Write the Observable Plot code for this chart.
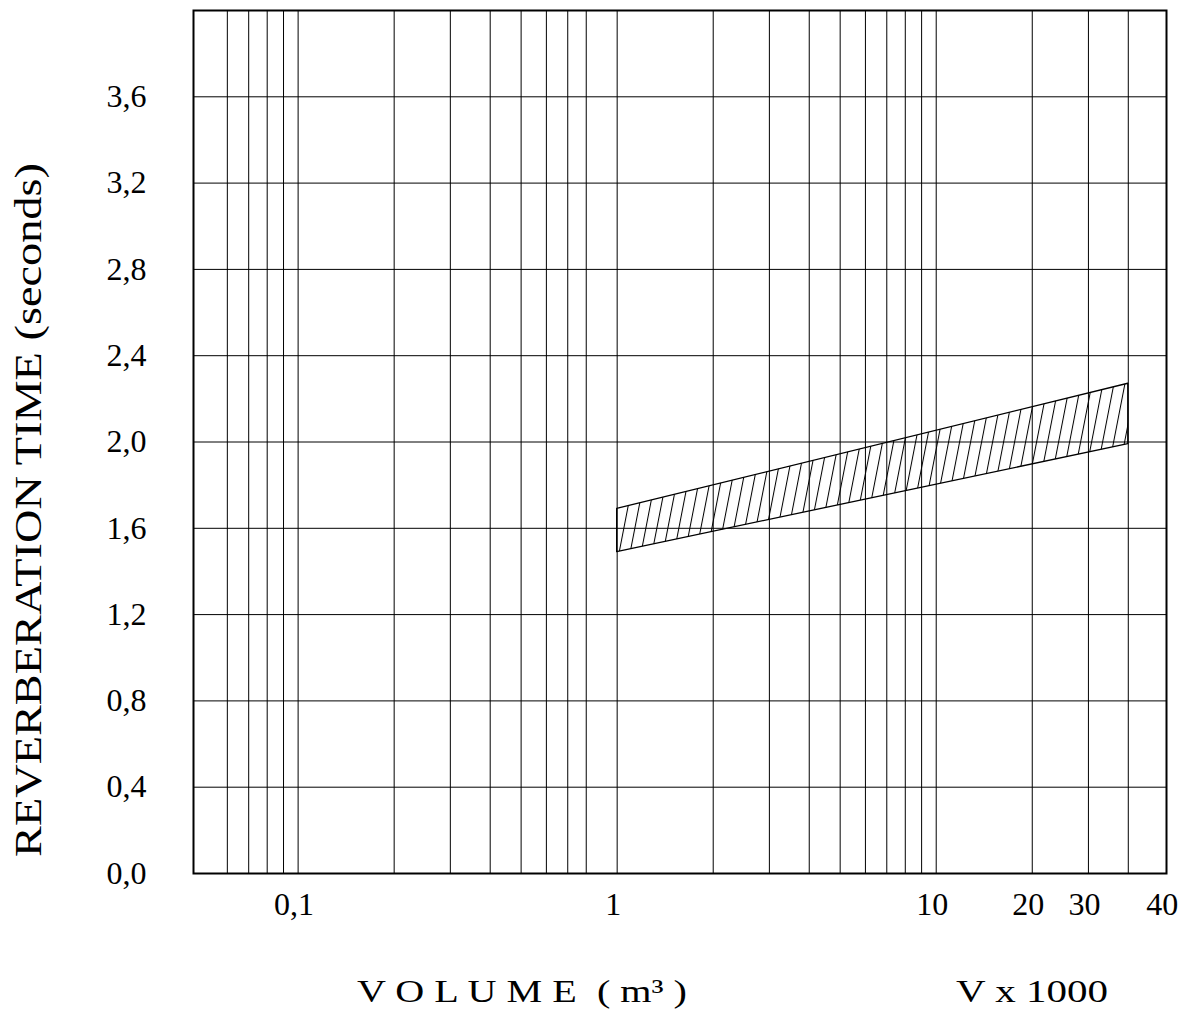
<!DOCTYPE html>
<html><head><meta charset="utf-8">
<script src="https://cdn.jsdelivr.net/npm/d3@7"></script>
<script src="https://cdn.jsdelivr.net/npm/@observablehq/plot@0.6"></script>
<style>body{margin:0;background:#fff;}</style>
</head><body><div id="chart"></div>
<script>
// Band of recommended reverberation time (seconds) vs. volume (m³, x1000)
const volumeBand = [1, 40];
const rtUpper = [1.69, 2.27];
const rtLower = [1.49, 1.99];
// Grid lines and ticks
const gridVolumes = [0.06, 0.07, 0.08, 0.09, 0.1, 0.2, 0.3, 0.4, 0.5, 0.6, 0.7, 0.8, 1, 2, 3, 4, 5, 6, 7, 8, 9, 10, 20, 30, 40];
const volumeTicks = [0.1, 1, 10, 20, 30];
const volumeTicksEnd = [40];
const rtTicks = [0, 0.4, 0.8, 1.2, 1.6, 2.0, 2.4, 2.8, 3.2, 3.6];
const xTitle = "V O L U M E  ( m³ )";
const xUnit = "V x 1000";
const yTitle = "REVERBERATION TIME (seconds)";

const band = volumeBand.map((v, i) => ({volume: v, lo: rtLower[i], hi: rtUpper[i]}));
const fmtX = d => String(d).replace(".", ",");
const fmtY = d => d.toFixed(1).replace(".", ",");

const plot = Plot.plot({
  width: 1192, height: 1016,
  marginTop: 10, marginLeft: 193, marginRight: 26, marginBottom: 143,
  style: {fontFamily: '"Liberation Serif", "Times New Roman", serif', fontSize: "32px", color: "#000", background: "#fff"},
  x: {type: "log", domain: [0.047, 52.7]},
  y: {domain: [0, 4]},
  marks: [
    Plot.ruleX(gridVolumes, {stroke: "#000", strokeWidth: 1}),
    Plot.ruleY(rtTicks, {stroke: "#000", strokeWidth: 1}),
    Plot.areaY(band, {x: "volume", y1: "lo", y2: "hi", fill: "url(#hatch)", stroke: "#000", strokeWidth: 1.3}),
    Plot.axisX(volumeTicks, {tickSize: 0, tickPadding: 19, tickFormat: fmtX, fontSize: 32, label: null, dx: -4}),
    Plot.axisX(volumeTicksEnd, {tickSize: 0, tickPadding: 19, tickFormat: fmtX, fontSize: 32, label: null, dx: 34}),
    Plot.axisY(rtTicks, {tickSize: 0, tickPadding: 47, tickFormat: fmtY, fontSize: 32, label: null}),
    Plot.frame({stroke: "#000", strokeWidth: 2}),
    Plot.text([yTitle], {text: d => d, frameAnchor: "left", textAnchor: "middle", rotate: -90, dx: -165, dy: 68, fontSize: 38, className: "ytitle"}),
    Plot.text([xTitle], {text: d => d, frameAnchor: "bottom", textAnchor: "middle", dx: -158, dy: 128, fontSize: 32, className: "xtitle"}),
    Plot.text([xUnit], {text: d => d, frameAnchor: "bottom", textAnchor: "middle", dx: 352, dy: 128, fontSize: 32, className: "xunit"})
  ]
});

const ns = "http://www.w3.org/2000/svg";
const defs = document.createElementNS(ns, "defs");
defs.innerHTML = '<pattern id="hatch" patternUnits="userSpaceOnUse" width="11" height="40" patternTransform="skewX(-11)"><line x1="0.5" y1="-5" x2="0.5" y2="45" stroke="#000" stroke-width="1.1"/></pattern>';
plot.insertBefore(defs, plot.firstChild);
// stretch the titles to the widths seen in the reference
const stretch = (cls, len) => plot.querySelectorAll(`g.${cls} text`).forEach(t => {
  t.setAttribute("textLength", len);
  t.setAttribute("lengthAdjust", "spacingAndGlyphs");
});
stretch("ytitle", 694);
stretch("xtitle", 330);
stretch("xunit", 152);
document.getElementById("chart").appendChild(plot);
</script>
</body></html>
